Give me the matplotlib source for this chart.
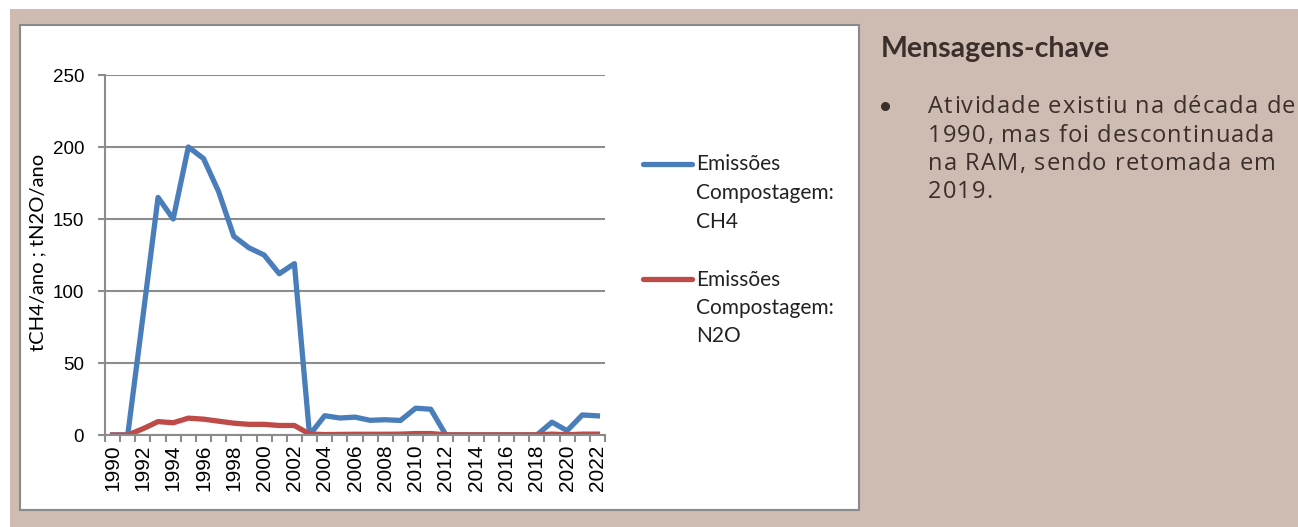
import matplotlib
matplotlib.use("Agg")
import matplotlib.pyplot as plt
from matplotlib.patches import Rectangle
from matplotlib.lines import Line2D
from matplotlib.font_manager import FontProperties
from matplotlib.textpath import TextToPath
import numpy as np

years = list(range(1990, 2023))
ch4 = [0, 0, 82, 165, 150, 200, 192, 169, 138, 130, 125, 112, 119,
       0, 13.4, 11.8, 12.4, 10.2, 10.6, 10.1, 18.6, 17.9,
       0, 0, 0, 0, 0, 0, 0, 8.9, 3.0, 13.9, 13.3]
n2o = [0, 0, 4.3, 9.3, 8.5, 11.7, 11.0, 9.6, 8.2, 7.4, 7.4, 6.6, 6.6,
       0.7, 0.3, 0.4, 0.5, 0.5, 0.5, 0.6, 1.0, 1.0,
       0.1, 0.1, 0.1, 0.1, 0.1, 0.1, 0.1, 0.6, 0.2, 0.6, 0.6]
yticks = [0, 50, 100, 150, 200, 250]
legend_labels = ["Emissões\nCompostagem:\nCH4", "Emissões\nCompostagem:\nN2O"]
ylabel = "tCH4/ano ; tN2O/ano"
side_title = "Mensagens-chave"
side_lines = ["Atividade existiu na década de",
              "1990, mas foi descontinuada",
              "na RAM, sendo retomada em",
              "2019."]

W, H = 1298, 527
BLUE = "#4a7ebb"
RED = "#be4b48"
GRID = "#8c8c8c"
BEIGE = "#cebbb2"
TXT = "#3b2f2b"

fig = plt.figure(figsize=(W / 100, H / 100), dpi=100)
fig.patch.set_facecolor("white")


def px(x, y):
    # pixel (from top-left) -> figure fraction
    return x / W, 1 - y / H


def rect(x0, y0, x1, y1, **kw):
    fx, fy = px(x0, y1)
    fig.patches.append(Rectangle((fx, fy), (x1 - x0) / W, (y1 - y0) / H,
                                 transform=fig.transFigure, **kw))


rect(10, 9, W, H, facecolor=BEIGE, edgecolor="none", zorder=0)
rect(20, 25, 859, 510, facecolor="white", edgecolor="#8a8a8a", lw=1.5, zorder=1)

l, b = px(105, 435)
ax = fig.add_axes([l, b, 500 / W, 360 / H])
ax.set_zorder(2)
ax.patch.set_alpha(0)

x = np.arange(len(years))
ax.plot(x, ch4, color=BLUE, lw=3.8, solid_joinstyle="round")
ax.plot(x, n2o, color=RED, lw=3.8, solid_joinstyle="round")

ax.set_xlim(-0.5, len(years) - 0.5)
ax.set_ylim(0, 250)
ax.set_yticks(yticks)
ax.yaxis.grid(True, color=GRID, lw=1.5)
ax.set_axisbelow(True)
for s in ["top", "right"]:
    ax.spines[s].set_visible(False)
for s in ["left", "bottom"]:
    ax.spines[s].set_color(GRID)
    ax.spines[s].set_linewidth(1.5)

ax.set_xticks(x[::2])
ax.set_xticklabels([str(y) for y in years[::2]], rotation=90,
                   fontsize=15, family="Liberation Sans")
ax.set_xticks(np.arange(-0.5, len(years)), minor=True)
ax.tick_params(axis="x", which="major", length=0, pad=7)
ax.tick_params(axis="x", which="minor", length=5, width=1.5, color=GRID)
ax.tick_params(axis="y", length=5, width=1.5, color=GRID, labelsize=13.5,
               pad=10)
for t in ax.get_yticklabels():
    t.set_family("Liberation Sans")

fig.text(*px(38, 252), ylabel, rotation=90, ha="center", va="center",
         fontsize=14.5, family="Lato")

# legend drawn by hand, text to the right of a short line
for (yy, col, lab) in [(164, BLUE, legend_labels[0]), (279, RED, legend_labels[1])]:
    x0, y0 = px(643, yy)
    x1, _ = px(692, yy)
    fig.lines.append(Line2D([x0, x1], [y0, y0], transform=fig.transFigure,
                            color=col, lw=3.8, solid_capstyle="round", zorder=3))
    for i, line in enumerate(lab.split("\n")):
        fig.text(*px(696, yy + 6.5 + i * 28.5), line, ha="left", va="baseline",
                 fontsize=15, family="Lato", color="#222222", zorder=3)

fig.text(*px(881, 56.5), side_title, ha="left", va="baseline", fontsize=20.5,
         family="Lato", weight="bold", color=TXT)
bx, by = px(885, 106)
fig.lines.append(Line2D([bx], [by], transform=fig.transFigure, marker="o",
                        markersize=5.5, color=TXT, lw=0))

# body text with extra letter spacing, placed char by char
fp = FontProperties(family="Open Sans", size=17)
ttp = TextToPath()
bar = ttp.get_text_width_height_descent("|", fp, ismath=False)[0]


def adv(s):
    return (ttp.get_text_width_height_descent(s + "|", fp, ismath=False)[0] - bar) * 100 / 72


first = side_lines[0]
sp = (367 - adv(first)) / (len(first) - 1)
for i, line in enumerate(side_lines):
    yb = 113 + i * 28.5
    for j, ch in enumerate(line):
        if ch == " ":
            continue
        xx = 928 + adv(line[:j]) + j * sp
        fig.text(*px(xx, yb), ch, ha="left", va="baseline",
                 fontproperties=fp, color=TXT)

fig.savefig("out.png", dpi=100)
